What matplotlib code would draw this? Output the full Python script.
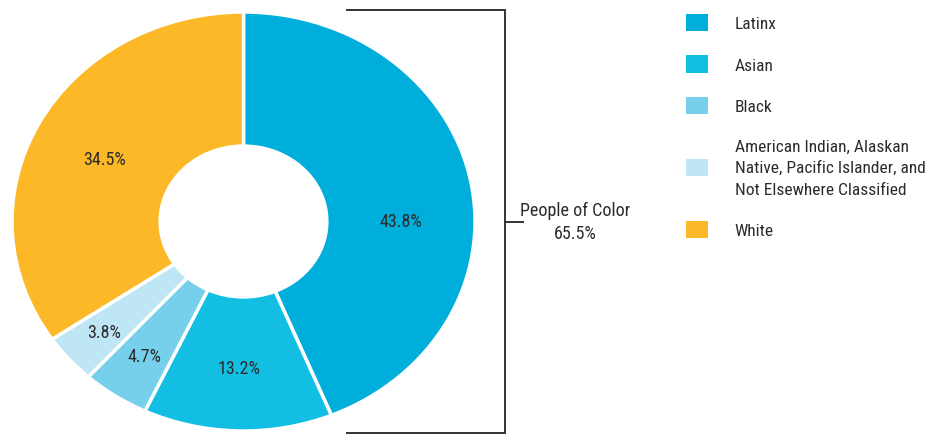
import matplotlib
matplotlib.use('Agg')
import numpy as np
import matplotlib.pyplot as plt
from matplotlib.patches import Patch
from matplotlib import font_manager

# prefer a narrow sans, fall back to Lato
wanted = ['Liberation Sans Narrow', 'Roboto Condensed', 'DejaVu Sans Condensed',
          'Open Sans Condensed', 'Lato']
have = {f.name for f in font_manager.fontManager.ttflist}
plt.rcParams['font.family'] = [f for f in wanted if f in have] + ['DejaVu Sans']

groups = ['Latinx', 'Asian', 'Black',
          'American Indian, Alaskan\nNative, Pacific Islander, and\nNot Elsewhere Classified',
          'White']
shares = [43.8, 13.2, 4.7, 3.8, 34.5]
poc_total = 65.5

colors = ['#00aedb', '#12bfe3', '#76d0eb', '#bee6f4', '#fdb827']
# label radius and small angular nudge for each wedge
label_r = [0.68, 0.70, 0.77, 0.80, 0.67]
label_nudge = [-11, 0, 0, 0, 1.5]
ink = '#2b2b2b'
fs = 13

fig = plt.figure(figsize=(9.31, 4.35), dpi=100)
W, H = 931, 435

# donut is slightly wider than tall
ax = fig.add_axes([12 / W, 1 - 432 / H, 463 / W, 419 / H])
wedges, _ = ax.pie(shares, colors=colors, startangle=90, counterclock=False,
                   radius=1, wedgeprops=dict(width=0.64, edgecolor='white', linewidth=2.5))
ax.set_aspect('auto')
ax.set_xlim(-1, 1)
ax.set_ylim(-1, 1)

for w, v, r, d in zip(wedges, shares, label_r, label_nudge):
    mid = np.deg2rad((w.theta1 + w.theta2) / 2 + d)
    ax.text(r * np.cos(mid), r * np.sin(mid), f'{v}%', ha='center', va='center',
            fontsize=fs, color=ink)

# bracket grouping the people of color wedges
ov = fig.add_axes([0, 0, 1, 1])
ov.set_xlim(0, W)
ov.set_ylim(H, 0)
ov.axis('off')
ov.plot([347, 505, 505, 347], [10.5, 10.5, 434, 434], color='#333333', lw=1.4,
        solid_joinstyle='miter')
ov.plot([505, 523], [222.5, 222.5], color='#333333', lw=1.4)
ov.text(575, 222.5, f'People of Color\n{poc_total}%', ha='center', va='center',
        fontsize=fs, color=ink, linespacing=1.3)

handles = [Patch(facecolor=c, edgecolor='none') for c in colors]
leg = fig.legend(handles, groups, loc='upper left', bbox_to_anchor=(686 / W, 1 - 15 / H),
                 frameon=False, fontsize=12.5, labelcolor=ink, handlelength=1.25,
                 handleheight=1.15, handletextpad=1.55, labelspacing=1.38,
                 borderaxespad=0, borderpad=0)
for t in leg.get_texts():
    t.set_linespacing(1.55)

fig.savefig('out.png', dpi=100)
